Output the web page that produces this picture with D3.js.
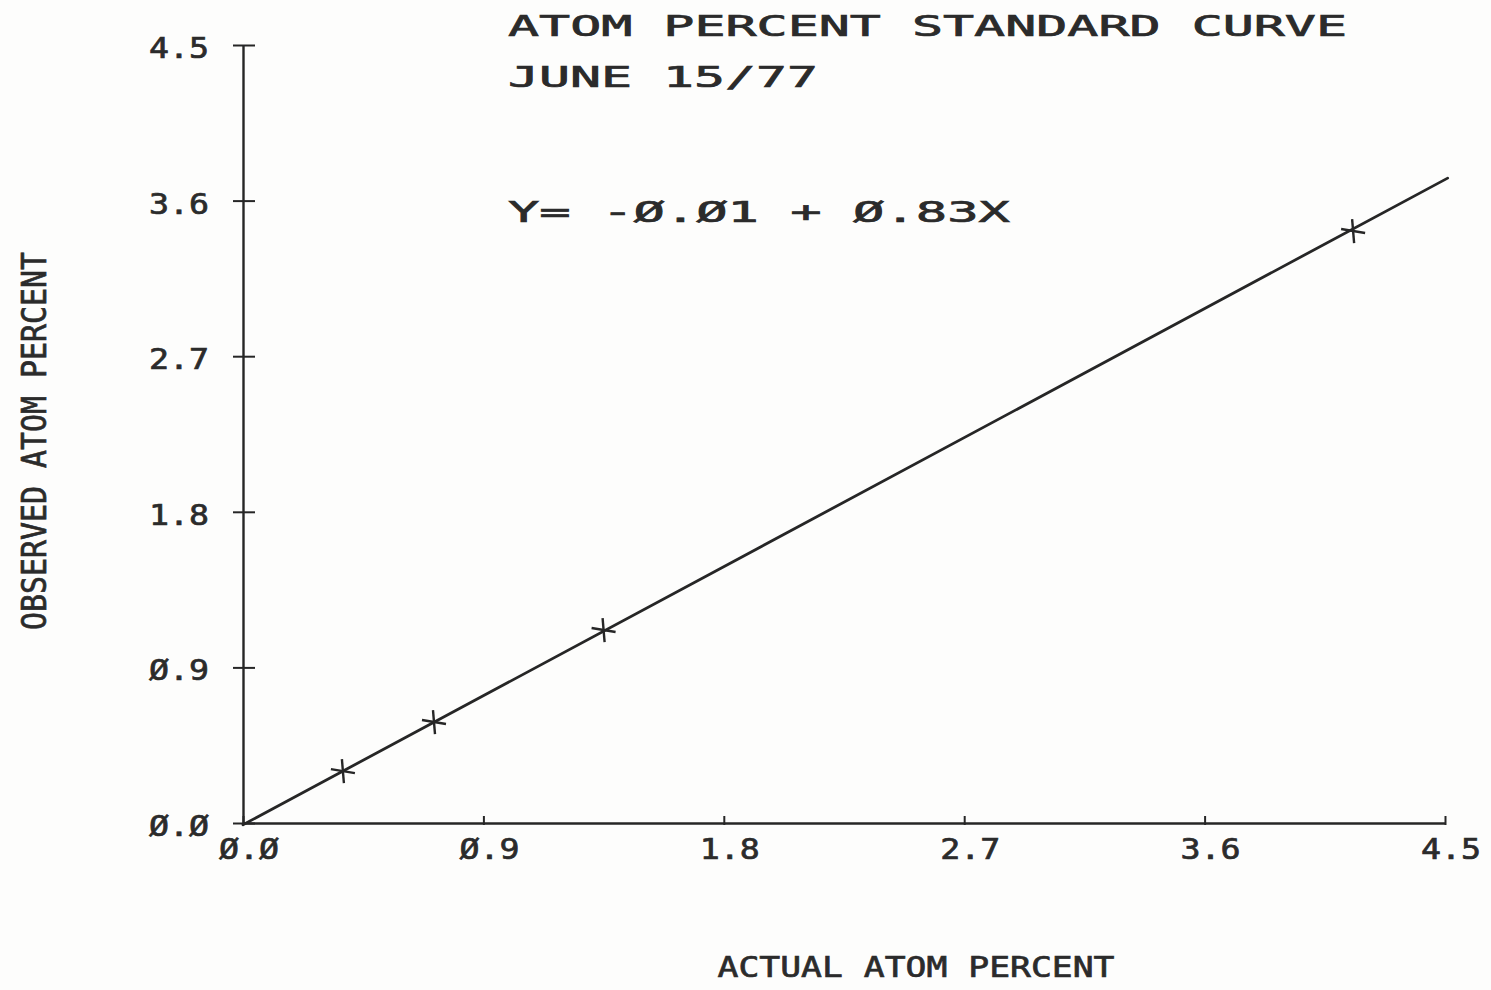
<!DOCTYPE html>
<html>
<head>
<meta charset="utf-8">
<script src="https://cdn.jsdelivr.net/npm/d3@7"></script>
<style>
  body { margin: 0; background: #fdfdfc; }
  text { font-family: "DejaVu Sans Mono", "Liberation Mono", monospace; fill: #2b2b2b; stroke: #2b2b2b; stroke-width: 0.7px; }
</style>
</head>
<body>
<script>
(function() {

    var width = 1491;
    var height = 990;

    //data
    const actual = [0.374, 0.715, 1.35, 4.156];
    const observed = [0.30, 0.584, 1.116, 3.424];

    //fitted line end points
    const fitX = [0.0, 4.51];
    const fitY = [-0.01, 3.73];

    //tick values and labels (the plotter writes zero as a slashed zero)
    const tickValues = [0.0, 0.9, 1.8, 2.7, 3.6, 4.5];
    const tickLabels = ["Ø.Ø", "Ø.9", "1.8", "2.7", "3.6", "4.5"];

    const titleLines = ["ATOM PERCENT STANDARD CURVE", "JUNE 15/77"];
    const equation = "Y= -Ø.Ø1 + Ø.83X";
    const xTitle = "ACTUAL ATOM PERCENT";
    const yTitle = "OBSERVED ATOM PERCENT";

    const svg = d3.select("body")
      .append("svg")
      .attr("width", width)
      .attr("height", height);

    //scales
    const x = d3.scaleLinear().domain([0, 4.5]).range([243, 1445]);
    const y = d3.scaleLinear().domain([0, 4.5]).range([823, 45]);

    const ink = "#262626";

    //x axis
    const xAxis = svg.append("g")
        .attr("transform", "translate(0," + y(0) + ")")
        .call(d3.axisBottom(x).tickValues(tickValues).tickSize(0).tickFormat(""));
    xAxis.select(".domain").attr("stroke", ink).attr("stroke-width", 2.4);
    xAxis.selectAll(".tick line")
        .attr("y1", -7).attr("y2", 2)
        .attr("stroke", ink).attr("stroke-width", 2);

    //y axis
    const yAxis = svg.append("g")
        .attr("transform", "translate(" + x(0) + ",0)")
        .call(d3.axisLeft(y).tickValues(tickValues).tickSize(0).tickFormat(""));
    yAxis.select(".domain").attr("stroke", ink).attr("stroke-width", 2.4);
    yAxis.selectAll(".tick line")
        .attr("x1", -10).attr("x2", 12)
        .attr("stroke", ink).attr("stroke-width", 2);

    //tick labels
    svg.selectAll(".xlab")
        .data(tickValues)
        .enter()
        .append("text")
        .attr("class", "xlab")
        .attr("x", d => x(d) + 6)
        .attr("y", y(0) + 36)
        .attr("text-anchor", "middle")
        .attr("font-size", 28)
        .attr("textLength", 60)
        .attr("lengthAdjust", "spacingAndGlyphs")
        .text((d, i) => tickLabels[i]);

    svg.selectAll(".ylab")
        .data(tickValues)
        .enter()
        .append("text")
        .attr("class", "ylab")
        .attr("x", 179)
        .attr("y", d => y(d) + 13)
        .attr("text-anchor", "middle")
        .attr("font-size", 28)
        .attr("textLength", 60)
        .attr("lengthAdjust", "spacingAndGlyphs")
        .text((d, i) => tickLabels[i]);

    //fitted line
    const line = d3.line()
        .x(d => x(d[0]))
        .y(d => y(d[1]));

    svg.append("path")
        .datum(fitX.map((d, i) => [d, fitY[i]]))
        .attr("d", line)
        .attr("fill", "none")
        .attr("stroke", ink)
        .attr("stroke-width", 2.8)
        .attr("stroke-linecap", "round");

    //point markers
    const pts = svg.selectAll(".pt")
        .data(actual.map((d, i) => [d, observed[i]]))
        .enter()
        .append("g")
        .attr("class", "pt")
        .attr("transform", d => "translate(" + x(d[0]) + "," + y(d[1]) + ")");

    pts.append("line")
        .attr("x1", -12).attr("x2", 12).attr("y1", -2).attr("y2", 2)
        .attr("stroke", ink).attr("stroke-width", 2.4);
    pts.append("line")
        .attr("x1", -1).attr("x2", 1).attr("y1", -12).attr("y2", 12)
        .attr("stroke", ink).attr("stroke-width", 2.4);

    //titles
    svg.append("text")
        .attr("x", 508).attr("y", 36)
        .attr("font-size", 29)
        .attr("textLength", 839)
        .attr("lengthAdjust", "spacingAndGlyphs")
        .text(titleLines[0]);

    svg.append("text")
        .attr("x", 508).attr("y", 87)
        .attr("font-size", 29)
        .attr("textLength", 310)
        .attr("lengthAdjust", "spacingAndGlyphs")
        .text(titleLines[1]);

    svg.append("text")
        .attr("x", 508).attr("y", 222)
        .attr("font-size", 29)
        .attr("textLength", 502)
        .attr("lengthAdjust", "spacingAndGlyphs")
        .text(equation);

    //axis titles
    svg.append("text")
        .attr("x", 916).attr("y", 977)
        .attr("text-anchor", "middle")
        .attr("font-size", 29)
        .attr("textLength", 397)
        .attr("lengthAdjust", "spacingAndGlyphs")
        .text(xTitle);

    svg.append("text")
        .attr("transform", "translate(46,441) rotate(-90)")
        .attr("text-anchor", "middle")
        .attr("font-size", 34)
        .attr("textLength", 378)
        .attr("lengthAdjust", "spacingAndGlyphs")
        .text(yTitle);

})();
</script>
</body>
</html>
